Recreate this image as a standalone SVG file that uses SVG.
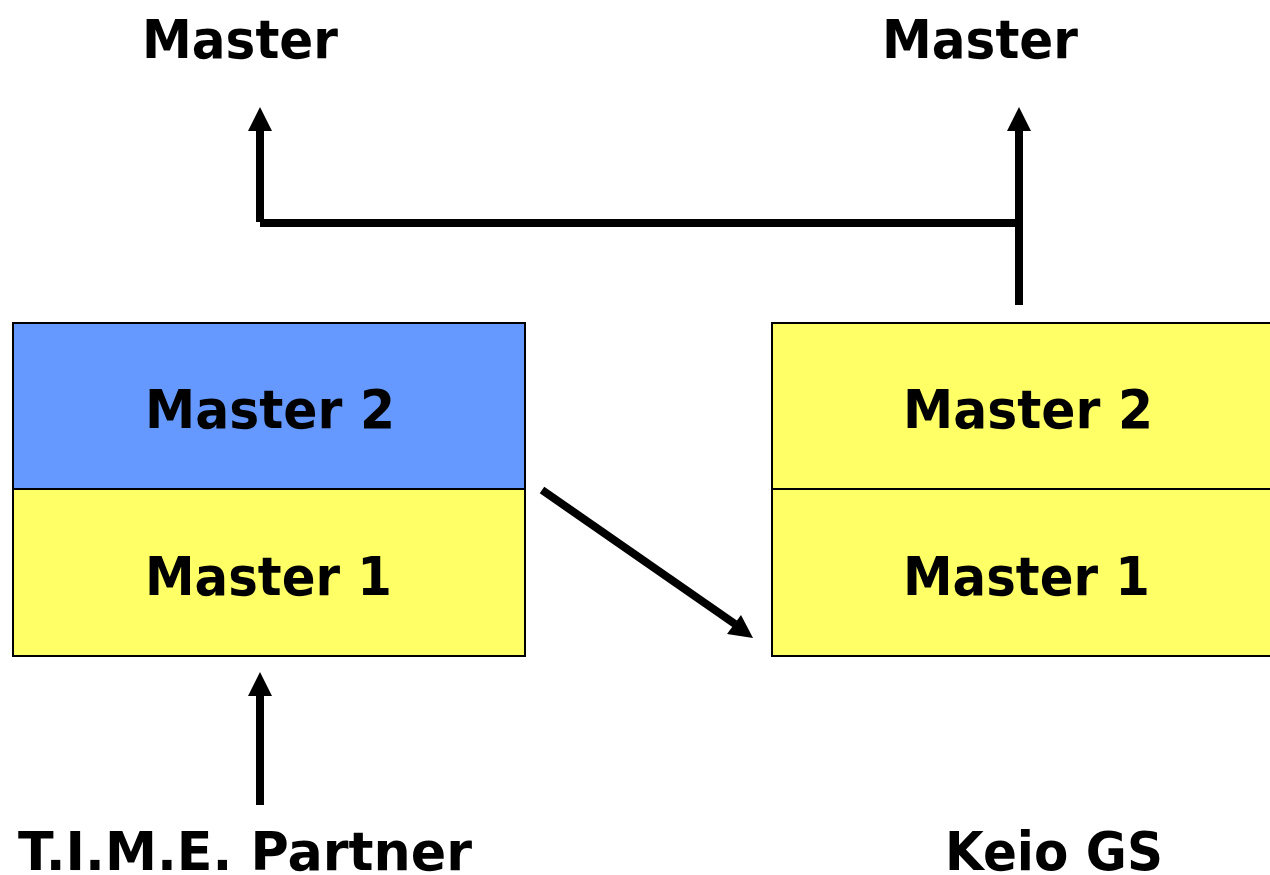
<svg xmlns="http://www.w3.org/2000/svg" width="1270" height="875" viewBox="0 0 1270 875">
<defs>
<style>
.t{font-family:"DejaVu Sans","Liberation Sans",sans-serif;font-weight:bold;font-size:54px;fill:#000}
.box{stroke:#000;stroke-width:2}
.blue{fill:#6699FF}
.yel{fill:#FFFF66}
.ln{stroke:#000;stroke-width:8;fill:none}
</style>
</defs>
<rect width="1270" height="875" fill="#fff"/>
<g id="label-master-left"><text class="t" x="142" y="58" textLength="196" lengthAdjust="spacingAndGlyphs">Master</text></g>
<g id="label-master-right"><text class="t" x="882" y="58" textLength="196" lengthAdjust="spacingAndGlyphs">Master</text></g>
<g id="left-stack">
<rect class="box blue" x="13" y="323" width="512" height="166"/>
<rect class="box yel" x="13" y="489" width="512" height="167"/>
<text class="t" x="145" y="428" textLength="250" lengthAdjust="spacingAndGlyphs">Master 2</text>
<text class="t" x="145" y="595" textLength="247" lengthAdjust="spacingAndGlyphs">Master 1</text>
</g>
<g id="right-stack">
<rect class="box yel" x="772" y="323" width="510" height="166"/>
<rect class="box yel" x="772" y="489" width="510" height="167"/>
<text class="t" x="903" y="428" textLength="250" lengthAdjust="spacingAndGlyphs">Master 2</text>
<text class="t" x="903" y="595" textLength="247" lengthAdjust="spacingAndGlyphs">Master 1</text>
</g>
<g id="label-time"><text class="t" x="18" y="870" textLength="454" lengthAdjust="spacingAndGlyphs">T.I.M.E. Partner</text></g>
<g id="label-keio"><text class="t" x="945" y="870" textLength="218" lengthAdjust="spacingAndGlyphs">Keio GS</text></g>
<g id="connectors">
<path class="ln" d="M260,222 L260,130"/>
<path d="M248,131 L260,107 L272,131 Z" fill="#000"/>
<path class="ln" d="M260,223 L1019,223"/>
<path class="ln" d="M1019,305 L1019,130"/>
<path d="M1007,131 L1019,107 L1031,131 Z" fill="#000"/>
<path class="ln" d="M542,490 L735,624"/>
<path d="M727,634 L753,638 L741,615 Z" fill="#000"/>
<path class="ln" d="M260,805 L260,695"/>
<path d="M248,696 L260,672 L272,696 Z" fill="#000"/>
</g>
</svg>
